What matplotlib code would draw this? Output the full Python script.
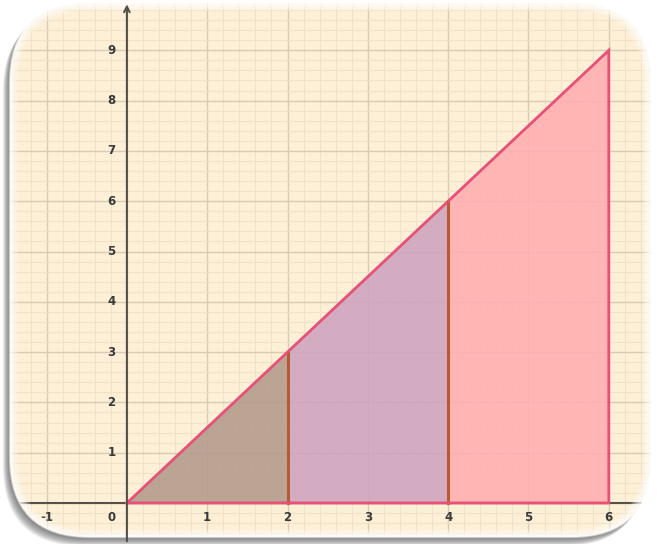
import numpy as np
import matplotlib
matplotlib.use("Agg")
import matplotlib.pyplot as plt
from matplotlib.patches import FancyBboxPatch, Polygon

# data
xs = [0, 2, 4, 6]
ys = [0, 3, 6, 9]
region_colors = ["#b39a8c", "#cfa3bf", "#ffadb0"]
x_labels = [-1, 0, 1, 2, 3, 4, 5, 6]
y_labels = [1, 2, 3, 4, 5, 6, 7, 8, 9]

W, H = 657, 544
fig = plt.figure(figsize=(W / 100, H / 100), dpi=100)
fig.patch.set_facecolor("white")
ax = fig.add_axes([0, 0, 1, 1])
ax.set_zorder(5)
ax.patch.set_visible(False)
ax.set_xlim(-1.58, 6.6)
ax.set_ylim(-0.815, 10.0)
ax.axis("off")


def rbox(x, y, w, h, r, **kw):
    return FancyBboxPatch((x, y), w, h, boxstyle=f"round,pad=0,rounding_size={r}",
                          transform=None, **kw)


# rounded frame (pixel coords, origin bottom-left)
fx, fy, fw, fh, rad = 10, 7, 641, 534, 80
for k in range(10):
    off = 10 - k
    fig.patches.append(rbox(fx - off * 0.7, fy - off * 0.9, fw, fh, rad,
                            facecolor="#3a3a3a", edgecolor="none", alpha=0.09, zorder=0))
fig.patches.append(rbox(fx, fy, fw, fh, rad, facecolor="#fdf0d6", edgecolor="none", zorder=1))
clip = rbox(fx, fy, fw, fh, rad, facecolor="none", edgecolor="none")

# grid
for v in np.arange(-1.6, 6.7, 0.2):
    major = abs(v - round(v)) < 1e-6
    ax.axvline(v, color="#d6cbb6" if major else "#f1e1c8", lw=1.0 if major else 0.8, zorder=1)
for v in np.arange(-0.8, 10.1, 0.2):
    major = abs(v - round(v)) < 1e-6
    ax.axhline(v, color="#d6cbb6" if major else "#f1e1c8", lw=1.0 if major else 0.8, zorder=1)

# regions
for i in range(3):
    poly = Polygon([(xs[i], 0), (xs[i], ys[i]), (xs[i + 1], ys[i + 1]), (xs[i + 1], 0)],
                   closed=True, facecolor=region_colors[i], edgecolor="none", alpha=0.88, zorder=2)
    ax.add_patch(poly)

# axes lines
ax.plot([-1.58, 6.6], [0, 0], color="#555048", lw=1.5, zorder=3)

# outline
ax.plot([xs[0], xs[-1], xs[-1], xs[0]], [ys[0], ys[-1], 0, 0], color="#e85078", lw=2, zorder=5,
        solid_joinstyle="miter")
for i in (1, 2):
    ax.plot([xs[i], xs[i]], [0, ys[i]], color="#b85a30", lw=2.2, zorder=4)

# labels
for v in x_labels:
    ax.text(v - 0.19 if v == 0 else v, -0.28, str(v), ha="center", va="center",
            fontsize=8.5, fontweight="bold", color="#3a3a3a", zorder=6)
for v in y_labels:
    ax.text(-0.19, v, str(v), ha="center", va="center",
            fontsize=8.5, fontweight="bold", color="#3a3a3a", zorder=6)

for art in ax.lines + ax.patches + ax.texts:
    art.set_clip_path(clip)

# inner white glow along the frame edge
for k in range(9):
    g = rbox(fx + k, fy + k, fw - 2 * k, fh - 2 * k, rad - k,
             facecolor="none", edgecolor="white", lw=1.6, alpha=0.55 * (1 - k / 9), zorder=7)
    ax.add_patch(g)

# y axis with arrow (drawn over the glow, not clipped)
ax.annotate("", xy=(0, 9.97), xytext=(0, -0.815),
            arrowprops=dict(arrowstyle="->", color="#555048", lw=1.5, mutation_scale=10),
            zorder=8)

fig.savefig("out.png", dpi=100)
